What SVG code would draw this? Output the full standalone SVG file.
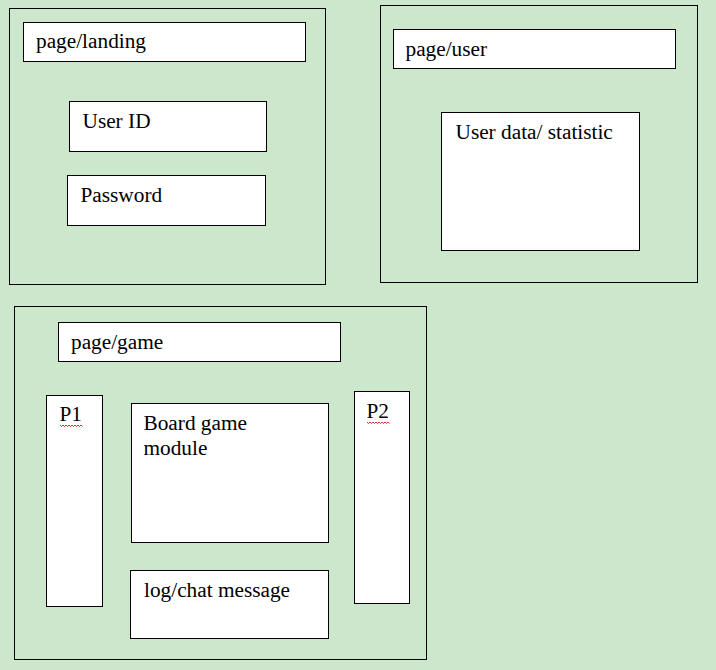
<svg xmlns="http://www.w3.org/2000/svg" width="716" height="670" viewBox="0 0 716 670">
<style>
.bg{fill:#cde7cc}
.page{fill:#cde7cc;stroke:#000;stroke-width:1}
.box{fill:#fff;stroke:#000;stroke-width:1}
.t{font-family:"Liberation Serif","Times New Roman",serif;font-size:21.3px;fill:#000}
.sq{fill:none;stroke:#c00000;stroke-width:0.8}
</style>
<rect class="bg" x="0" y="0" width="716" height="670"/>
<g id="landing">
<rect class="page" x="9.5" y="8.5" width="316" height="276"/>
<g id="landing-title"><rect class="box" x="23.5" y="22.5" width="282" height="39"/><text class="t" x="36" y="48">page/landing</text></g>
<g id="userid"><rect class="box" x="69.5" y="101.5" width="197" height="50"/><text class="t" x="82.5" y="128">User ID</text></g>
<g id="password"><rect class="box" x="67.5" y="175.5" width="198" height="50"/><text class="t" x="80.5" y="202">Password</text></g>
</g>
<g id="user">
<rect class="page" x="380.5" y="5.5" width="317" height="277"/>
<g id="user-title"><rect class="box" x="393.5" y="29.5" width="282" height="39"/><text class="t" x="405.5" y="56">page/user</text></g>
<g id="userdata"><rect class="box" x="441.5" y="112.5" width="198" height="138"/><text class="t" x="455.5" y="139">User data/ statistic</text></g>
</g>
<g id="game">
<rect class="page" x="14.5" y="306.5" width="412" height="353"/>
<g id="game-title"><rect class="box" x="58.5" y="322.5" width="282" height="39"/><text class="t" x="71" y="349">page/game</text></g>
<g id="p1"><rect class="box" x="46.5" y="395.5" width="56" height="211"/><text class="t" x="59.5" y="421">P1</text>
<path class="sq" d="M60 425l1.5 1.5l1.5-1.5l1.5 1.5l1.5-1.5l1.5 1.5l1.5-1.5l1.5 1.5l1.5-1.5l1.5 1.5l1.5-1.5l1.5 1.5l1.5-1.5l1.5 1.5l1.5-1.5l1.5 1.5"/></g>
<g id="board"><rect class="box" x="131.5" y="403.5" width="197" height="139"/><text class="t" x="143.5" y="430">Board game</text><text class="t" x="143.5" y="455">module</text></g>
<g id="log"><rect class="box" x="130.5" y="570.5" width="198" height="68"/><text class="t" x="144" y="597">log/chat message</text></g>
<g id="p2"><rect class="box" x="354.5" y="391.5" width="55" height="212"/><text class="t" x="366.5" y="418">P2</text>
<path class="sq" d="M367 422l1.5 1.5l1.5-1.5l1.5 1.5l1.5-1.5l1.5 1.5l1.5-1.5l1.5 1.5l1.5-1.5l1.5 1.5l1.5-1.5l1.5 1.5l1.5-1.5l1.5 1.5l1.5-1.5l1.5 1.5"/></g>
</g>
<g id="connectors"></g>
</svg>
